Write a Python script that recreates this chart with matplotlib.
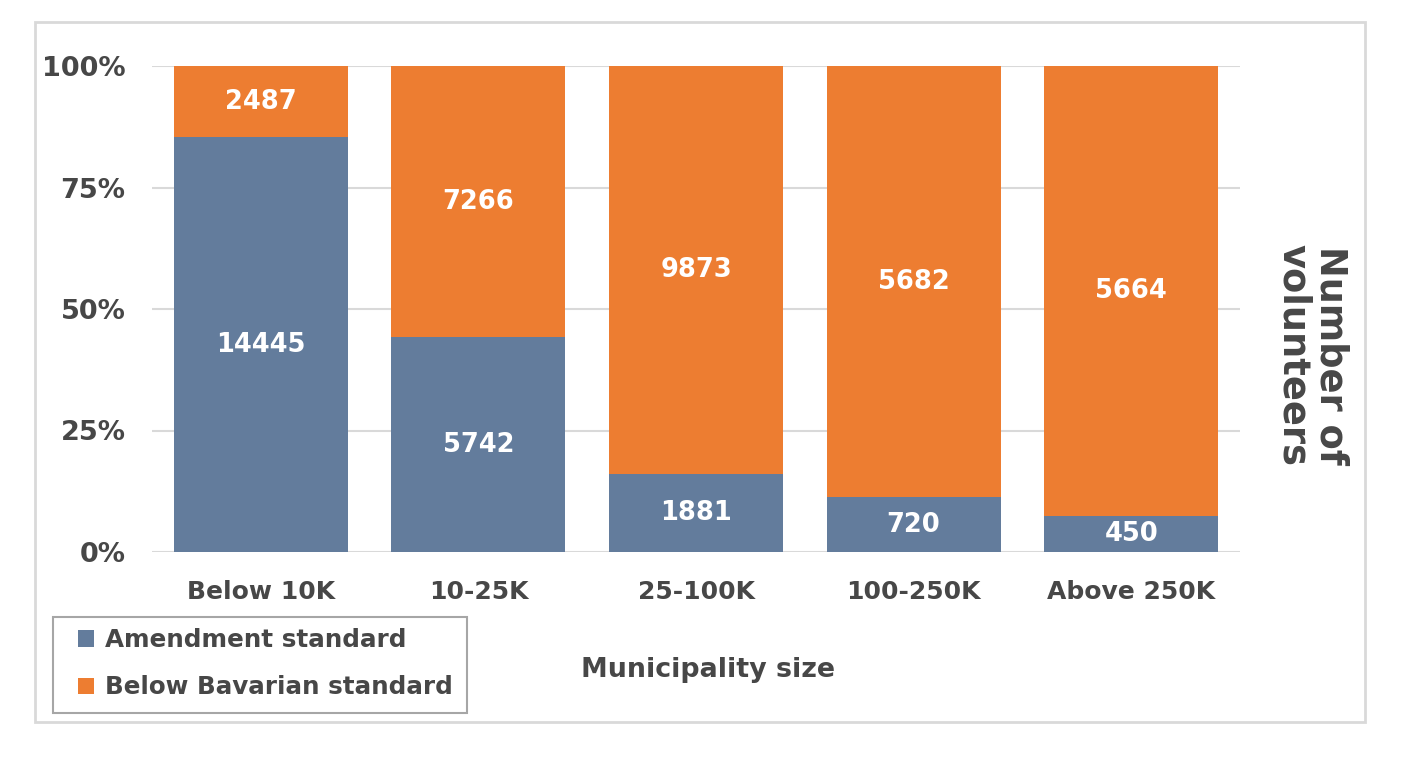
import matplotlib
matplotlib.use("Agg")
import matplotlib.pyplot as plt
from matplotlib.patches import Rectangle
import numpy as np

categories = ["Below 10K", "10-25K", "25-100K", "100-250K", "Above 250K"]
amendment = [14445, 5742, 1881, 720, 450]
below_bavarian = [2487, 7266, 9873, 5682, 5664]
series_names = ["Amendment standard", "Below Bavarian standard"]
yticks = [0, 0.25, 0.5, 0.75, 1.0]
ytick_labels = ["0%", "25%", "50%", "75%", "100%"]

BLUE = "#637C9C"
ORANGE = "#ED7D31"
TXT = "#474747"

plt.rcParams['font.family'] = ['DejaVu Sans']
plt.rcParams['font.weight'] = 'bold'

W, H = 1406, 765
fig = plt.figure(figsize=(W / 100, H / 100), dpi=100)

ax = fig.add_axes([152 / W, 1 - 552 / H, (1240 - 152) / W, (552 - 66) / H])

a = np.array(amendment, dtype=float)
b = np.array(below_bavarian, dtype=float)
tot = a + b
fa = a / tot
fb = b / tot
x = np.arange(len(categories))

ax.bar(x, fa, width=0.8, color=BLUE, label=series_names[0], zorder=3, edgecolor="none")
ax.bar(x, fb, width=0.8, bottom=fa, color=ORANGE, label=series_names[1], zorder=3, edgecolor="none")

for i in range(len(categories)):
    ax.text(x[i], fa[i] / 2, f"{amendment[i]}", ha="center", va="center",
            color="white", fontsize=18.5, fontweight="bold", zorder=4)
    ax.text(x[i], fa[i] + fb[i] / 2, f"{below_bavarian[i]}", ha="center", va="center",
            color="white", fontsize=18.5, fontweight="bold", zorder=4)

ax.set_xlim(-0.5, len(categories) - 0.5)
ax.set_ylim(0, 1)
ax.set_yticks(yticks)
ax.set_yticklabels(ytick_labels)
ax.set_xticks(x)
ax.set_xticklabels(categories)
ax.yaxis.grid(True, color="#D9D9D9", linewidth=1.5, zorder=0)
ax.set_axisbelow(True)
for s in ax.spines.values():
    s.set_visible(False)
ax.tick_params(axis="both", length=0, labelcolor=TXT)
ax.tick_params(axis="y", pad=19, labelsize=19.5)
ax.tick_params(axis="x", pad=20, labelsize=18)
for lab in ax.get_xticklabels() + ax.get_yticklabels():
    lab.set_fontweight("bold")

fig.text(708 / W, 1 - 670 / H, "Municipality size", ha="center", va="center",
         fontsize=19.4, fontweight="bold", color=TXT)
fig.text(1312 / W, 1 - 355 / H, "Number of\nvolunteers", ha="center", va="center",
         rotation=270, fontsize=26.5, fontweight="bold", color=TXT, linespacing=1.0)

leg = fig.legend(loc="upper left", bbox_to_anchor=(78 / W, 1 - 628 / H),
                 borderaxespad=0, borderpad=0,
                 frameon=False, handlelength=0.65,
                 handleheight=0.65, handletextpad=0.45, labelspacing=0.95,
                 labelcolor=TXT, prop={"weight": "bold", "size": 17.7})

# legend frame
fig.patches.append(Rectangle((53 / W, 1 - 713 / H), (467 - 53) / W, (713 - 617) / H,
                             transform=fig.transFigure, fill=False,
                             edgecolor="#A6A6A6", linewidth=1.5))
# outer chart border
fig.patches.append(Rectangle((35 / W, 1 - 722 / H), (1365 - 35) / W, (722 - 22) / H,
                             transform=fig.transFigure, fill=False,
                             edgecolor="#D9D9D9", linewidth=2))

fig.savefig("out.png", dpi=100)
